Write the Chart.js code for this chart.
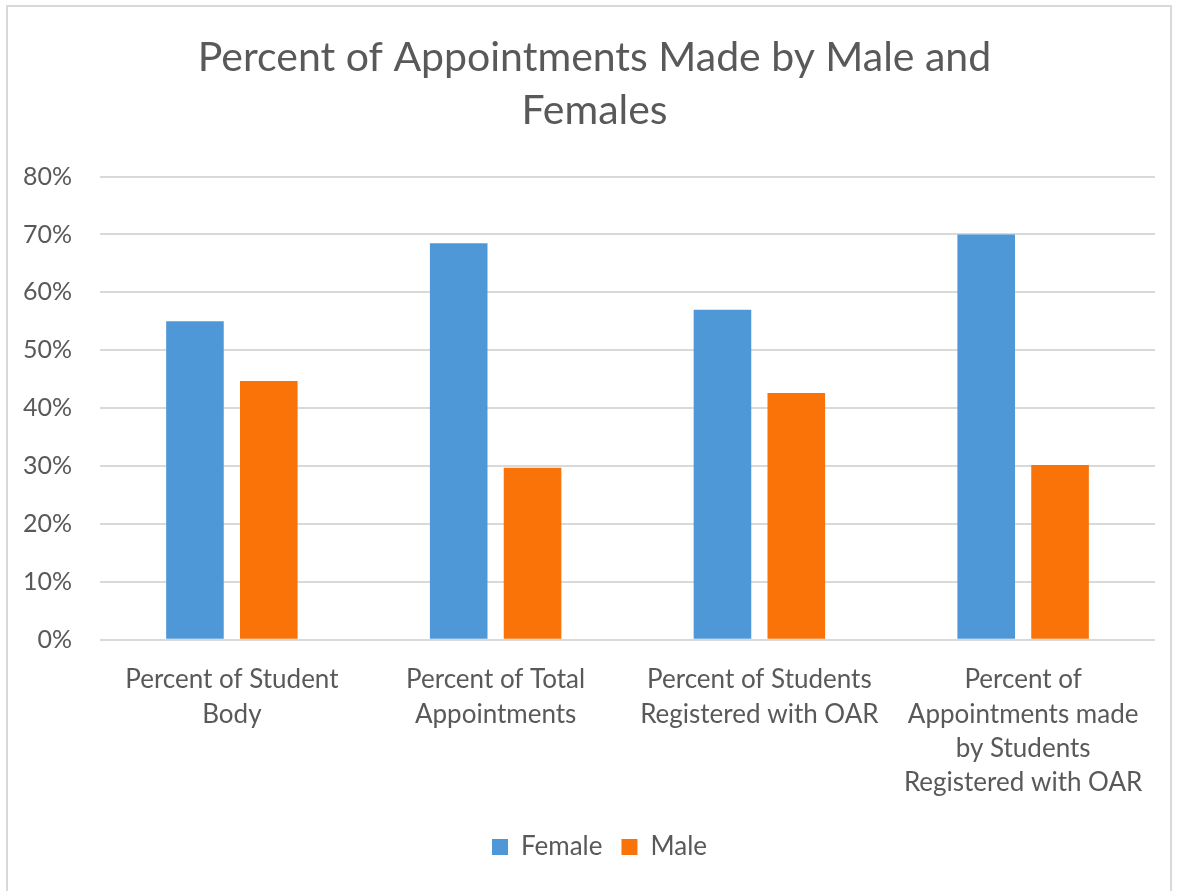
<!DOCTYPE html>
<html>
<head>
<meta charset="utf-8">
<script src="https://cdn.jsdelivr.net/npm/chart.js@4/dist/chart.umd.min.js"></script>
<style>
  html, body { margin: 0; padding: 0; background: #fff; }
  #frame {
    position: absolute; left: 6px; top: 5px; width: 1166px; height: 900px;
    border: 2px solid #d9d9d9; box-sizing: border-box;
  }
  #wrap { position: absolute; left: 0; top: 0; width: 1178px; height: 891px; }
</style>
</head>
<body>
<div id="frame"></div>
<div id="wrap"><canvas id="chart"></canvas></div>
<script>
const categories = [
  ['Percent of Student', 'Body'],
  ['Percent of Total', 'Appointments'],
  ['Percent of Students', 'Registered with OAR'],
  ['Percent of', 'Appointments made', 'by Students', 'Registered with OAR']
];
const female = [55, 68.5, 57, 70];
const male = [44.7, 29.7, 42.6, 30.2];
const yTicks = [0, 10, 20, 30, 40, 50, 60, 70, 80];

const textColor = '#595959';
const fontFamily = 'Lato, "Open Sans", sans-serif';

// title and legend sit a little right of the canvas centre in the original
const boxShift = {
  id: 'boxShift',
  afterLayout(chart) {
    if (chart.titleBlock) chart.titleBlock.left += 34;
    if (chart.legend) chart.legend.left += 44;
  }
};

new Chart(document.getElementById('chart').getContext('2d'), {
  type: 'bar',
  data: {
    labels: categories,
    datasets: [
      { label: 'Female', data: female, backgroundColor: '#4F98D8' },
      { label: 'Male', data: male, backgroundColor: '#F97308' }
    ]
  },
  plugins: [boxShift],
  options: {
    responsive: true,
    maintainAspectRatio: false,
    animation: false,
    categoryPercentage: 0.56,
    barPercentage: 0.78,
    layout: { padding: { left: 0, right: 23, top: 31, bottom: 21 } },
    plugins: {
      title: {
        display: true,
        text: ['Percent of Appointments Made by Male and', 'Females'],
        color: textColor,
        font: { family: fontFamily, size: 41, weight: 'normal', lineHeight: 1.3 },
        padding: { top: 0, bottom: 39 }
      },
      legend: {
        position: 'bottom',
        labels: {
          color: textColor,
          font: { family: fontFamily, size: 26 },
          boxWidth: 16,
          boxHeight: 16,
          padding: 19
        }
      },
      tooltip: { enabled: false }
    },
    scales: {
      x: {
        grid: { display: false },
        border: { display: false },
        ticks: {
          color: textColor,
          font: { family: fontFamily, size: 26, lineHeight: 1.32 },
          maxRotation: 0,
          padding: 15
        }
      },
      y: {
        min: 0,
        max: 80,
        afterBuildTicks: axis => { axis.ticks = yTicks.map(v => ({ value: v })); },
        afterFit: axis => { axis.width = 100; },
        grid: { color: '#d9d9d9', lineWidth: 2, drawTicks: false },
        border: { display: false },
        ticks: {
          color: textColor,
          font: { family: fontFamily, size: 25 },
          padding: 28,
          callback: v => v + '%'
        }
      }
    }
  }
});
</script>
</body>
</html>
